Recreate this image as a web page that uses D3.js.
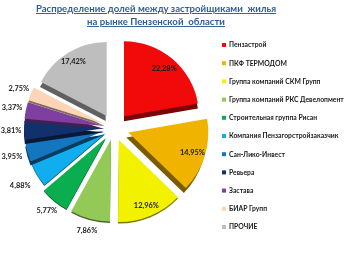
<!DOCTYPE html>
<html>
<head>
<meta charset="utf-8">
<script src="https://cdn.jsdelivr.net/npm/d3@7"></script>
<style>
  html, body { margin: 0; padding: 0; background: #fff; }
  svg { display: block; filter: blur(0.35px); }
  text { font-family: Lato, "Open Sans", sans-serif; font-weight: 700; }
  .title { white-space: pre; }
</style>
</head>
<body>
<script>
var titleLines = ['Распределение долей между застройщиками  жилья', 'на рынке Пензенской  области'];
var companies = ['Пензастрой', 'ПКФ ТЕРМОДОМ', 'Группа компаний СКМ Групп', 'Группа компаний РКС Девелопмент',
  'Строительная группа Рисан', 'Компания Пензагорстройзаказчик', 'Сан-Лико-Инвест', 'Ревьера', 'Застава', 'БИАР Групп', 'ПРОЧИЕ'];
var shares = [22.28, 14.95, 12.96, 7.86, 5.77, 4.88, 3.95, 3.81, 3.37, 2.75, 17.42];
var colors = ['#f20a0a', '#f0b400', '#f2f200', '#92c957', '#0bae4f', '#10aeef', '#1476be', '#12306b', '#7e3fa0', '#fbd5b5', '#bebebe'];

// the original is a tilted 3d pie, so every slice gets its own pull-out, radius and side
var explode = [15.5, 15, 13, 12, 13, 10, 10, 10, 10, 10, 14];
var outer = [75, 80, 82, 82, 81, 80, 80, 80, 80, 80, 74];
var depth = [5, 5, 1.5, 1.5, 1, 1, 4, 4, 3, 2, 5];
var depthX = [0, -2, 0, 0, 0, 0, 0, 0, 0, 0, -1];
var labelRadius = [78, 82, 84, 106, 106, 110, 106, 103, 104, 103, 78];

var width = 358, height = 254;
var cx = 114, cy = 128;

var svg = d3.select('body').append('svg')
    .attr('width', width)
    .attr('height', height);

// title
svg.selectAll('.title')
    .data(titleLines)
    .enter().append('text')
    .attr('class', 'title')
    .attr('x', 156)
    .attr('y', function(d, i) { return 12 + i * 13; })
    .attr('text-anchor', 'middle')
    .attr('font-size', 9.6)
    .attr('fill', '#2f5f97')
    .attr('text-decoration', 'underline')
    .text(function(d) { return d; });

var pie = d3.pie().sort(null)
    .value(function(d) { return d; });
var arc = d3.arc().innerRadius(0)
    .outerRadius(function(d) { return outer[d.index]; });
var arcs = pie(shares);

function midAngle(d) { return (d.startAngle + d.endAngle) / 2; }

var g = svg.append('g')
    .attr('transform', 'translate(' + cx + ',' + cy + ')');

var slices = g.selectAll('.slice')
    .data(arcs)
    .enter().append('g')
    .attr('class', 'slice')
    .attr('transform', function(d, i) {
      var a = midAngle(d);
      return 'translate(' + (Math.sin(a) * explode[i]) + ',' + (-Math.cos(a) * explode[i]) + ')';
    });

// dark copy underneath gives the 3d edge
slices.append('path')
    .attr('d', arc)
    .attr('transform', function(d, i) { return 'translate(' + depthX[i] + ',' + depth[i] + ')'; })
    .attr('fill', function(d, i) { return d3.color(colors[i]).darker(1.9); });

slices.append('path')
    .attr('d', arc)
    .attr('fill', function(d, i) { return colors[i]; });

// data labels
g.selectAll('.pct')
    .data(arcs)
    .enter().append('text')
    .attr('class', 'pct')
    .attr('x', function(d, i) { return Math.sin(midAngle(d)) * labelRadius[i]; })
    .attr('y', function(d, i) { return -Math.cos(midAngle(d)) * labelRadius[i]; })
    .attr('dy', '0.35em')
    .attr('text-anchor', 'middle')
    .attr('font-size', 7.4)
    .attr('fill', '#1a1a1a')
    .text(function(d, i) { return shares[i].toFixed(2).replace('.', ',') + '%'; });

// legend
var legendY = d3.scalePoint().domain(companies).range([45, 227]);

var legend = svg.selectAll('.legend')
    .data(companies)
    .enter().append('g')
    .attr('class', 'legend')
    .attr('transform', function(d) { return 'translate(222,' + legendY(d) + ')'; });

legend.append('rect')
    .attr('y', -2)
    .attr('width', 4)
    .attr('height', 4)
    .attr('fill', function(d, i) { return colors[i]; });

legend.append('text')
    .attr('x', 7)
    .attr('dy', '0.35em')
    .attr('font-size', 6.8)
    .attr('fill', '#1a1a1a')
    .text(function(d) { return d; });
</script>
</body>
</html>
